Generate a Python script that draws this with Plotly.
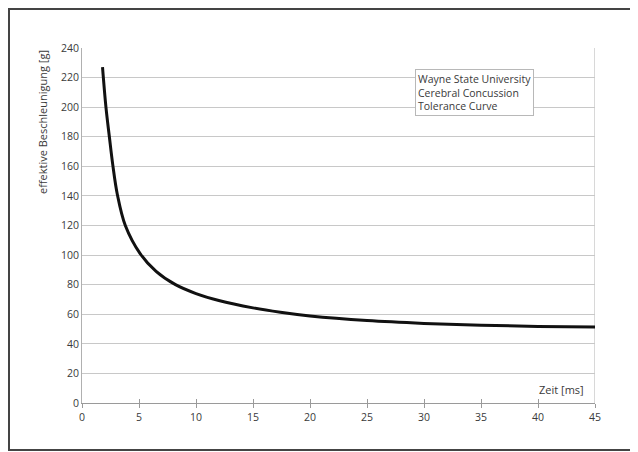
import plotly.graph_objects as go

zeit_ms = [1.8, 2.1, 2.4, 2.7, 3.1, 3.8, 5.1, 6.5, 8.2, 10, 12, 15, 17.4, 20, 25, 30, 35, 40, 45]
beschleunigung_g = [227, 200, 180, 161, 141, 120, 101, 89, 80, 74, 69.3, 64.3, 61.3, 58.8, 55.7, 53.8, 52.6, 51.8, 51.4]

x_ticks = [0, 5, 10, 15, 20, 25, 30, 35, 40, 45]
y_ticks = [0, 20, 40, 60, 80, 100, 120, 140, 160, 180, 200, 220, 240]

legend_lines = ["Wayne State University", "Cerebral Concussion", "Tolerance Curve"]
y_title = "effektive Beschleunigung [g]"
x_title = "Zeit [ms]"

FONT = "Open Sans, DejaVu Sans, sans-serif"
GRID = "#c8c8c8"
TXT = "#3a3a3a"

# page body has an 8px margin -> figure is 8px smaller and margins shifted
W, H = 630, 444
L, R, T, B = 74, 43, 40, 49
PW, PH = W - L - R, H - T - B

fig = go.Figure()
fig.add_trace(go.Scatter(
    x=zeit_ms, y=beschleunigung_g, mode="lines",
    line=dict(color="#111111", width=3, shape="spline", smoothing=1.0),
    showlegend=False, hoverinfo="skip"))

fig.update_layout(
    width=W, height=H,
    margin=dict(l=L, r=R, t=T, b=B),
    paper_bgcolor="white", plot_bgcolor="white",
    font=dict(family=FONT, size=10, color=TXT),
    xaxis=dict(range=[0, 45], tickvals=x_ticks, showgrid=False,
               zeroline=False, showline=True, linecolor="#9a9a9a", linewidth=1,
               ticks="outside", ticklen=4, tickcolor="#9a9a9a",
               mirror=False, tickfont=dict(size=10.5, color=TXT)),
    xaxis2=dict(range=[0, 45], tickvals=x_ticks, overlaying="x", side="bottom",
                anchor="y", showgrid=False, zeroline=False, showline=False,
                ticks="inside", ticklen=4, tickcolor="#9a9a9a", showticklabels=False),
    yaxis=dict(range=[0, 240], tickvals=y_ticks, showgrid=True, gridcolor=GRID,
               gridwidth=1, zeroline=False, showline=True, linecolor="#b0b0b0",
               linewidth=1, ticks="", tickfont=dict(size=10.5, color=TXT)),
)

# invisible trace to activate the inner-tick axis
fig.add_trace(go.Scatter(x=[0, 45], y=[0, 0], xaxis="x2", mode="lines",
                         line=dict(width=0), showlegend=False, hoverinfo="skip"))

# right plot border
fig.add_shape(type="line", xref="x", yref="y", x0=45, x1=45, y0=0, y1=240,
              line=dict(color="#b0b0b0", width=1), layer="below")
# outer frame
fig.add_shape(type="rect", xref="paper", yref="paper",
              x0=(1 - L) / PW, x1=(W - 1 - L) / PW,
              y0=(T + PH - (H - 2)) / PH, y1=(T + PH - 1) / PH,
              line=dict(color="#444444", width=2))

fig.add_annotation(xref="paper", yref="y", x=-40 / PW, y=240, text=y_title,
                   textangle=-90, showarrow=False, xanchor="center", yanchor="top",
                   font=dict(size=11, color=TXT))
fig.add_annotation(xref="x", yref="y", x=44.2, y=3, text=x_title,
                   showarrow=False, xanchor="right", yanchor="bottom",
                   font=dict(size=11, color=TXT))
fig.add_annotation(xref="x", yref="y", x=29.2, y=226, text="<br>".join(legend_lines),
                   showarrow=False, xanchor="left", yanchor="top", align="left",
                   bgcolor="white", bordercolor="#b8b8b8", borderwidth=1, borderpad=2,
                   font=dict(size=10.5, color=TXT))

fig.write_html("out.html")
